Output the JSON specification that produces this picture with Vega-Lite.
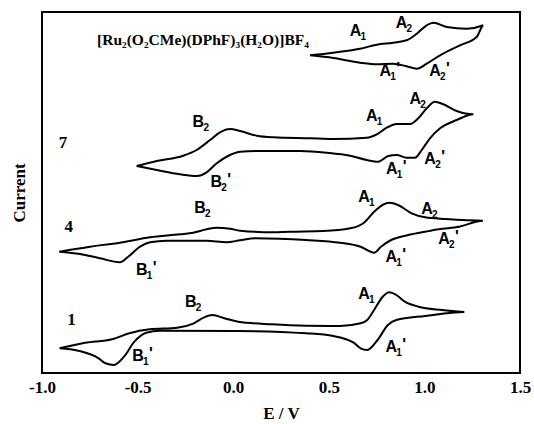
{
  "$schema": "https://vega.github.io/schema/vega-lite/v6.json",
  "width": 478,
  "height": 361,
  "autosize": "none",
  "padding": {"left": 42, "top": 12, "right": 14, "bottom": 51},
  "background": "white",
  "config": {
    "view": {"stroke": "black", "strokeWidth": 2},
    "axis": {"grid": false, "domain": false, "ticks": false}
  },
  "datasets": {
    "cv": [
      {"c": "1", "k": 0, "E": -0.908, "I": 24.7},
      {"c": "1", "k": 1, "E": -0.775, "I": 30.3},
      {"c": "1", "k": 2, "E": -0.633, "I": 33.7},
      {"c": "1", "k": 3, "E": -0.543, "I": 39.7},
      {"c": "1", "k": 4, "E": -0.437, "I": 43.7},
      {"c": "1", "k": 5, "E": -0.294, "I": 45.3},
      {"c": "1", "k": 6, "E": -0.206, "I": 49.7},
      {"c": "1", "k": 7, "E": -0.152, "I": 55.7},
      {"c": "1", "k": 8, "E": -0.108, "I": 58},
      {"c": "1", "k": 9, "E": -0.046, "I": 54.7},
      {"c": "1", "k": 10, "E": 0.026, "I": 51.3},
      {"c": "1", "k": 11, "E": 0.203, "I": 48.7},
      {"c": "1", "k": 12, "E": 0.381, "I": 47.3},
      {"c": "1", "k": 13, "E": 0.559, "I": 47},
      {"c": "1", "k": 14, "E": 0.666, "I": 49.7},
      {"c": "1", "k": 15, "E": 0.701, "I": 53},
      {"c": "1", "k": 16, "E": 0.737, "I": 63},
      {"c": "1", "k": 17, "E": 0.782, "I": 76.3},
      {"c": "1", "k": 18, "E": 0.817, "I": 80.7},
      {"c": "1", "k": 19, "E": 0.853, "I": 78},
      {"c": "1", "k": 20, "E": 0.898, "I": 71.3},
      {"c": "1", "k": 21, "E": 0.969, "I": 66.3},
      {"c": "1", "k": 22, "E": 1.093, "I": 63},
      {"c": "1", "k": 23, "E": 1.209, "I": 61},
      {"c": "1", "k": 24, "E": 1.004, "I": 57},
      {"c": "1", "k": 25, "E": 0.853, "I": 53},
      {"c": "1", "k": 26, "E": 0.809, "I": 48},
      {"c": "1", "k": 27, "E": 0.755, "I": 33},
      {"c": "1", "k": 28, "E": 0.701, "I": 23},
      {"c": "1", "k": 29, "E": 0.666, "I": 24.7},
      {"c": "1", "k": 30, "E": 0.63, "I": 30.3},
      {"c": "1", "k": 31, "E": 0.524, "I": 37},
      {"c": "1", "k": 32, "E": 0.381, "I": 39.7},
      {"c": "1", "k": 33, "E": 0.026, "I": 42},
      {"c": "1", "k": 34, "E": -0.384, "I": 42.3},
      {"c": "1", "k": 35, "E": -0.455, "I": 40.3},
      {"c": "1", "k": 36, "E": -0.517, "I": 31.3},
      {"c": "1", "k": 37, "E": -0.571, "I": 16.3},
      {"c": "1", "k": 38, "E": -0.624, "I": 8},
      {"c": "1", "k": 39, "E": -0.668, "I": 9.7},
      {"c": "1", "k": 40, "E": -0.704, "I": 14.7},
      {"c": "1", "k": 41, "E": -0.811, "I": 22.3},
      {"c": "1", "k": 42, "E": -0.908, "I": 24.7},

      {"c": "4", "k": 0, "E": -0.91, "I": 121.3},
      {"c": "4", "k": 1, "E": -0.749, "I": 126.3},
      {"c": "4", "k": 2, "E": -0.592, "I": 130.3},
      {"c": "4", "k": 3, "E": -0.435, "I": 135.7},
      {"c": "4", "k": 4, "E": -0.278, "I": 138.7},
      {"c": "4", "k": 5, "E": -0.209, "I": 140.3},
      {"c": "4", "k": 6, "E": -0.139, "I": 143.7},
      {"c": "4", "k": 7, "E": -0.086, "I": 145.3},
      {"c": "4", "k": 8, "E": -0.017, "I": 144.3},
      {"c": "4", "k": 9, "E": 0.036, "I": 142.3},
      {"c": "4", "k": 10, "E": 0.21, "I": 140.7},
      {"c": "4", "k": 11, "E": 0.292, "I": 141.3},
      {"c": "4", "k": 12, "E": 0.47, "I": 142},
      {"c": "4", "k": 13, "E": 0.613, "I": 144.7},
      {"c": "4", "k": 14, "E": 0.684, "I": 150.3},
      {"c": "4", "k": 15, "E": 0.737, "I": 161.3},
      {"c": "4", "k": 16, "E": 0.791, "I": 169},
      {"c": "4", "k": 17, "E": 0.817, "I": 170.3},
      {"c": "4", "k": 18, "E": 0.862, "I": 168},
      {"c": "4", "k": 19, "E": 0.933, "I": 159.7},
      {"c": "4", "k": 20, "E": 1.004, "I": 155.7},
      {"c": "4", "k": 21, "E": 1.111, "I": 154},
      {"c": "4", "k": 22, "E": 1.306, "I": 152.3},
      {"c": "4", "k": 23, "E": 1.182, "I": 146.3},
      {"c": "4", "k": 24, "E": 1.075, "I": 143.7},
      {"c": "4", "k": 25, "E": 1.004, "I": 141.3},
      {"c": "4", "k": 26, "E": 0.915, "I": 138},
      {"c": "4", "k": 27, "E": 0.826, "I": 133},
      {"c": "4", "k": 28, "E": 0.773, "I": 126.3},
      {"c": "4", "k": 29, "E": 0.737, "I": 120.3},
      {"c": "4", "k": 30, "E": 0.666, "I": 126.3},
      {"c": "4", "k": 31, "E": 0.559, "I": 130.3},
      {"c": "4", "k": 32, "E": 0.381, "I": 133},
      {"c": "4", "k": 33, "E": 0.115, "I": 134.7},
      {"c": "4", "k": 34, "E": 0.036, "I": 132.7},
      {"c": "4", "k": 35, "E": -0.034, "I": 130.7},
      {"c": "4", "k": 36, "E": -0.139, "I": 132.3},
      {"c": "4", "k": 37, "E": -0.348, "I": 132.3},
      {"c": "4", "k": 38, "E": -0.435, "I": 130.7},
      {"c": "4", "k": 39, "E": -0.487, "I": 126.3},
      {"c": "4", "k": 40, "E": -0.549, "I": 116.3},
      {"c": "4", "k": 41, "E": -0.592, "I": 110.7},
      {"c": "4", "k": 42, "E": -0.697, "I": 114.7},
      {"c": "4", "k": 43, "E": -0.801, "I": 119},
      {"c": "4", "k": 44, "E": -0.91, "I": 121.3},

      {"c": "7", "k": 0, "E": -0.505, "I": 207},
      {"c": "7", "k": 1, "E": -0.4, "I": 212},
      {"c": "7", "k": 2, "E": -0.261, "I": 217.3},
      {"c": "7", "k": 3, "E": -0.191, "I": 223},
      {"c": "7", "k": 4, "E": -0.121, "I": 233},
      {"c": "7", "k": 5, "E": -0.069, "I": 240.7},
      {"c": "7", "k": 6, "E": -0.017, "I": 244},
      {"c": "7", "k": 7, "E": 0.036, "I": 242},
      {"c": "7", "k": 8, "E": 0.123, "I": 237.3},
      {"c": "7", "k": 9, "E": 0.21, "I": 235.7},
      {"c": "7", "k": 10, "E": 0.402, "I": 234.7},
      {"c": "7", "k": 11, "E": 0.524, "I": 234},
      {"c": "7", "k": 12, "E": 0.698, "I": 235.3},
      {"c": "7", "k": 13, "E": 0.751, "I": 238.7},
      {"c": "7", "k": 14, "E": 0.803, "I": 245.3},
      {"c": "7", "k": 15, "E": 0.855, "I": 249},
      {"c": "7", "k": 16, "E": 0.925, "I": 249},
      {"c": "7", "k": 17, "E": 0.968, "I": 254.7},
      {"c": "7", "k": 18, "E": 1.012, "I": 264.7},
      {"c": "7", "k": 19, "E": 1.055, "I": 271.3},
      {"c": "7", "k": 20, "E": 1.099, "I": 268.7},
      {"c": "7", "k": 21, "E": 1.169, "I": 262},
      {"c": "7", "k": 22, "E": 1.256, "I": 258.7},
      {"c": "7", "k": 23, "E": 1.169, "I": 253},
      {"c": "7", "k": 24, "E": 1.082, "I": 244.7},
      {"c": "7", "k": 25, "E": 1.029, "I": 234.7},
      {"c": "7", "k": 26, "E": 0.986, "I": 223},
      {"c": "7", "k": 27, "E": 0.951, "I": 215.3},
      {"c": "7", "k": 28, "E": 0.907, "I": 215.3},
      {"c": "7", "k": 29, "E": 0.855, "I": 218},
      {"c": "7", "k": 30, "E": 0.811, "I": 217},
      {"c": "7", "k": 31, "E": 0.759, "I": 211.3},
      {"c": "7", "k": 32, "E": 0.698, "I": 213},
      {"c": "7", "k": 33, "E": 0.611, "I": 217.3},
      {"c": "7", "k": 34, "E": 0.489, "I": 220.3},
      {"c": "7", "k": 35, "E": 0.349, "I": 222},
      {"c": "7", "k": 36, "E": 0.157, "I": 222},
      {"c": "7", "k": 37, "E": 0.036, "I": 221.3},
      {"c": "7", "k": 38, "E": -0.017, "I": 218},
      {"c": "7", "k": 39, "E": -0.086, "I": 209.7},
      {"c": "7", "k": 40, "E": -0.139, "I": 200.7},
      {"c": "7", "k": 41, "E": -0.191, "I": 197},
      {"c": "7", "k": 42, "E": -0.278, "I": 198.7},
      {"c": "7", "k": 43, "E": -0.4, "I": 203},
      {"c": "7", "k": 44, "E": -0.505, "I": 207},

      {"c": "Ru", "k": 0, "E": 0.402, "I": 317.7},
      {"c": "Ru", "k": 1, "E": 0.524, "I": 320.3},
      {"c": "Ru", "k": 2, "E": 0.663, "I": 324.3},
      {"c": "Ru", "k": 3, "E": 0.751, "I": 328.3},
      {"c": "Ru", "k": 4, "E": 0.837, "I": 330.3},
      {"c": "Ru", "k": 5, "E": 0.907, "I": 332.7},
      {"c": "Ru", "k": 6, "E": 0.96, "I": 339.3},
      {"c": "Ru", "k": 7, "E": 1.012, "I": 347.7},
      {"c": "Ru", "k": 8, "E": 1.047, "I": 350.3},
      {"c": "Ru", "k": 9, "E": 1.117, "I": 346},
      {"c": "Ru", "k": 10, "E": 1.221, "I": 344.3},
      {"c": "Ru", "k": 11, "E": 1.308, "I": 347.7},
      {"c": "Ru", "k": 12, "E": 1.273, "I": 336},
      {"c": "Ru", "k": 13, "E": 1.186, "I": 327.7},
      {"c": "Ru", "k": 14, "E": 1.082, "I": 317.7},
      {"c": "Ru", "k": 15, "E": 1.012, "I": 309.3},
      {"c": "Ru", "k": 16, "E": 0.96, "I": 304.3},
      {"c": "Ru", "k": 17, "E": 0.907, "I": 306.7},
      {"c": "Ru", "k": 18, "E": 0.837, "I": 309.3},
      {"c": "Ru", "k": 19, "E": 0.751, "I": 308.7},
      {"c": "Ru", "k": 20, "E": 0.663, "I": 310.3},
      {"c": "Ru", "k": 21, "E": 0.524, "I": 315},
      {"c": "Ru", "k": 22, "E": 0.402, "I": 317.7}
    ],
    "peaks": [
      {"L": "A", "n": "1", "p": "", "E": 0.64, "I": 342},
      {"L": "A", "n": "2", "p": "", "E": 0.88, "I": 350},
      {"L": "A", "n": "1", "p": "'", "E": 0.795, "I": 302},
      {"L": "A", "n": "2", "p": "'", "E": 1.056, "I": 302},
      {"L": "B", "n": "2", "p": "", "E": -0.182, "I": 250.7},
      {"L": "B", "n": "2", "p": "'", "E": -0.089, "I": 190.7},
      {"L": "A", "n": "1", "p": "", "E": 0.725, "I": 257.3},
      {"L": "A", "n": "2", "p": "", "E": 0.952, "I": 274},
      {"L": "A", "n": "1", "p": "'", "E": 0.829, "I": 204},
      {"L": "A", "n": "2", "p": "'", "E": 1.03, "I": 214},
      {"L": "B", "n": "2", "p": "", "E": -0.173, "I": 164.7},
      {"L": "B", "n": "1", "p": "'", "E": -0.478, "I": 103.3},
      {"L": "A", "n": "1", "p": "", "E": 0.684, "I": 175.7},
      {"L": "A", "n": "2", "p": "", "E": 1.014, "I": 164},
      {"L": "A", "n": "2", "p": "'", "E": 1.103, "I": 134},
      {"L": "A", "n": "1", "p": "'", "E": 0.827, "I": 115.7},
      {"L": "B", "n": "2", "p": "", "E": -0.222, "I": 70.7},
      {"L": "B", "n": "1", "p": "'", "E": -0.498, "I": 17.3},
      {"L": "A", "n": "1", "p": "", "E": 0.684, "I": 79},
      {"L": "A", "n": "1", "p": "'", "E": 0.827, "I": 25.7}
    ],
    "tags": [
      {"t": "7", "E": -0.89, "I": 229.7},
      {"t": "4", "E": -0.86, "I": 145.7},
      {"t": "1", "E": -0.846, "I": 53}
    ],
    "formula": [
      {"t": "[Ru₂(O₂CMe)(DPhF)₃(H₂O)]BF₄", "E": -0.712, "I": 333}
    ]
  },
  "encoding": {
    "x": {
      "field": "E", "type": "quantitative",
      "scale": {"domain": [-1, 1.5], "nice": false, "zero": false},
      "axis": {
        "values": [-1, -0.5, 0, 0.5, 1, 1.5],
        "labelExpr": "replace(format(datum.value, '.1f'), '−', '-')",
        "labelFont": "Liberation Serif", "labelFontWeight": "bold", "labelFontSize": 17,
        "labelColor": "black", "labelPadding": 6, "labelFlush": false,
        "title": "E / V", "titleFont": "Liberation Serif", "titleFontWeight": "bold",
        "titleFontSize": 17, "titleColor": "black", "titlePadding": 10
      }
    },
    "y": {
      "field": "I", "type": "quantitative",
      "scale": {"domain": [0, 361], "nice": false, "zero": false},
      "axis": {
        "labels": false, "title": "Current", "titleFont": "Liberation Serif",
        "titleFontWeight": "bold", "titleFontSize": 17, "titleColor": "black", "titlePadding": 14
      }
    }
  },
  "layer": [
    {
      "data": {"name": "cv"},
      "mark": {"type": "line", "color": "black", "strokeWidth": 2, "interpolate": "monotone"},
      "encoding": {"detail": {"field": "c"}, "order": {"field": "k", "type": "quantitative"}}
    },
    {
      "data": {"name": "peaks"},
      "mark": {"type": "text", "font": "Liberation Sans", "fontWeight": "bold", "fontSize": 16, "color": "black", "align": "center", "baseline": "middle"},
      "encoding": {"text": {"field": "L"}}
    },
    {
      "data": {"name": "peaks"},
      "mark": {"type": "text", "font": "Liberation Sans", "fontWeight": "bold", "fontSize": 10, "color": "black", "align": "left", "baseline": "middle", "dx": 5, "dy": 6},
      "encoding": {"text": {"field": "n"}}
    },
    {
      "data": {"name": "peaks"},
      "mark": {"type": "text", "font": "Liberation Sans", "fontWeight": "bold", "fontSize": 16, "color": "black", "align": "left", "baseline": "middle", "dx": 11, "dy": -2},
      "encoding": {"text": {"field": "p"}}
    },
    {
      "data": {"name": "tags"},
      "mark": {"type": "text", "font": "Liberation Serif", "fontWeight": "bold", "fontSize": 17, "color": "black"},
      "encoding": {"text": {"field": "t"}}
    },
    {
      "data": {"name": "formula"},
      "mark": {"type": "text", "font": "Liberation Serif", "fontWeight": "bold", "fontSize": 15.5, "color": "black", "align": "left", "baseline": "middle"},
      "encoding": {"text": {"field": "t"}}
    }
  ]
}
